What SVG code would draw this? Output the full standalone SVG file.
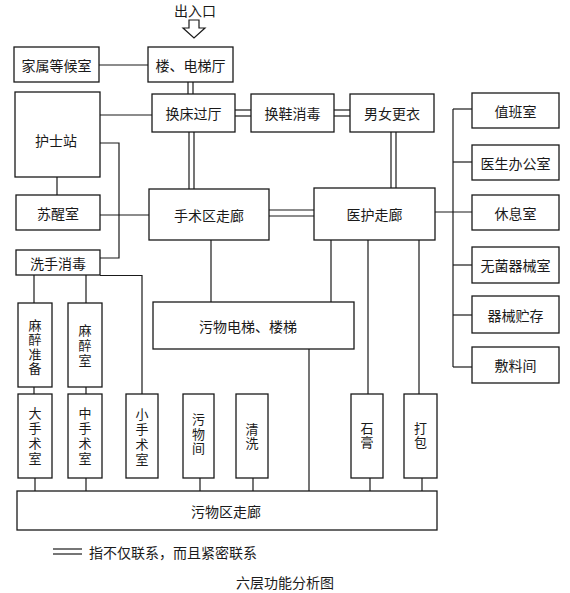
<svg xmlns="http://www.w3.org/2000/svg" width="570" height="593" viewBox="0 0 570 593">
<style>
rect{fill:#fff;stroke:#1a1a1a;stroke-width:1.3}
.c line,.c path{stroke:#1a1a1a;stroke-width:1.2;fill:none}
text{font-family:"Noto Sans CJK SC","Noto Sans",sans-serif;font-size:14px;fill:#1a1a1a;text-anchor:middle;dominant-baseline:central}
.v text{font-size:13px;writing-mode:vertical-rl;text-orientation:upright;letter-spacing:1.5px}
.v text.w{letter-spacing:2px}
</style>
<rect x="0" y="0" width="570" height="593" style="fill:#fff;stroke:none"/>
<g class="c" id="connectors">
<line x1="99" y1="65" x2="148" y2="65"/>
<line x1="188" y1="82" x2="188" y2="94"/><line x1="193" y1="82" x2="193" y2="94"/>
<line x1="100" y1="115" x2="152" y2="115"/>
<line x1="235" y1="110" x2="251" y2="110"/><line x1="235" y1="116" x2="251" y2="116"/>
<line x1="334" y1="110" x2="350" y2="110"/><line x1="334" y1="116" x2="350" y2="116"/>
<line x1="189" y1="132" x2="189" y2="189"/><line x1="194" y1="132" x2="194" y2="189"/>
<line x1="57" y1="177" x2="57" y2="195"/>
<line x1="100" y1="215" x2="149" y2="215"/>
<path d="M100,143 H119 V258 H100"/>
<line x1="269" y1="210" x2="314" y2="210"/><line x1="269" y1="216" x2="314" y2="216"/>
<line x1="391" y1="132" x2="391" y2="188"/><line x1="396" y1="132" x2="396" y2="188"/>
<line x1="435" y1="212" x2="472" y2="212"/>
<line x1="453" y1="109" x2="453" y2="367"/>
<line x1="453" y1="109" x2="472" y2="109"/>
<line x1="453" y1="162" x2="472" y2="162"/>
<line x1="453" y1="265" x2="472" y2="265"/>
<line x1="453" y1="315" x2="472" y2="315"/>
<line x1="453" y1="367" x2="472" y2="367"/>
<path d="M100,275.5 H142 V394"/>
<line x1="34" y1="275" x2="34" y2="303"/>
<line x1="86" y1="275" x2="86" y2="303"/>
<line x1="34" y1="387" x2="34" y2="394"/>
<line x1="86" y1="387" x2="86" y2="394"/>
<line x1="211" y1="240" x2="211" y2="302"/>
<line x1="331" y1="240" x2="331" y2="302"/>
<line x1="368" y1="240" x2="368" y2="394"/>
<line x1="419" y1="240" x2="419" y2="394"/>
<line x1="309" y1="349" x2="309" y2="491"/>
<line x1="35" y1="478" x2="35" y2="491"/>
<line x1="86" y1="478" x2="86" y2="491"/>
<line x1="200" y1="478" x2="200" y2="491"/>
<line x1="253" y1="478" x2="253" y2="491"/>
<line x1="370" y1="478" x2="370" y2="491"/>
<line x1="422" y1="478" x2="422" y2="491"/>
</g>
<g id="entrance">
<text x="195" y="10">出入口</text>
<polygon points="189,20 199,20 199,28 205,28 194,38 183,28 189,28" fill="#fff" stroke="#1a1a1a" stroke-width="1.2"/>
</g>
<g id="n-jiashu"><rect x="14" y="47" width="85" height="35"/><text x="56.5" y="65">家属等候室</text></g>
<g id="n-louti"><rect x="148" y="47" width="85" height="35"/><text x="190.5" y="65">楼、电梯厅</text></g>
<g id="n-huchuang"><rect x="152" y="94" width="83" height="38"/><text x="193.5" y="113">换床过厅</text></g>
<g id="n-hushi"><rect x="15" y="92" width="85" height="85"/><text x="56" y="140">护士站</text></g>
<g id="n-huanxie"><rect x="251" y="94" width="83" height="38"/><text x="292.5" y="113">换鞋消毒</text></g>
<g id="n-gengyi"><rect x="350" y="94" width="84" height="38"/><text x="392" y="113">男女更衣</text></g>
<g id="n-shoushuqu"><rect x="149" y="189" width="120" height="51"/><text x="209" y="214.5">手术区走廊</text></g>
<g id="n-suxing"><rect x="16" y="195" width="84" height="35"/><text x="58" y="212.5">苏醒室</text></g>
<g id="n-yihu"><rect x="314" y="188" width="121" height="52"/><text x="374.5" y="214">医护走廊</text></g>
<g id="n-zhiban"><rect x="472" y="93" width="87" height="35"/><text x="515.5" y="110.5">值班室</text></g>
<g id="n-yisheng"><rect x="472" y="145" width="87" height="35"/><text x="515.5" y="162.5">医生办公室</text></g>
<g id="n-xiuxi"><rect x="472" y="195" width="87" height="35"/><text x="515.5" y="212.5">休息室</text></g>
<g id="n-wujun"><rect x="472" y="247" width="87" height="36"/><text x="515.5" y="265">无菌器械室</text></g>
<g id="n-qixie"><rect x="472" y="296" width="87" height="37"/><text x="515.5" y="314.5">器械贮存</text></g>
<g id="n-fuliao"><rect x="472" y="347" width="87" height="36"/><text x="515.5" y="365">敷料间</text></g>
<g id="n-xishou"><rect x="16" y="250" width="84" height="25"/><text x="58" y="262.5">洗手消毒</text></g>
<g id="n-mazuizhunbei" class="v"><rect x="18" y="303" width="34" height="84"/><text x="35" y="347.5">麻醉准备</text></g>
<g id="n-mazuishi" class="v"><rect x="68" y="303" width="34" height="84"/><text class="w" x="85" y="346">麻醉室</text></g>
<g id="n-da" class="v"><rect x="18" y="394" width="34" height="84"/><text class="w" x="35" y="436.5">大手术室</text></g>
<g id="n-zhong" class="v"><rect x="68" y="394" width="34" height="84"/><text class="w" x="85" y="436.5">中手术室</text></g>
<g id="n-xiao" class="v"><rect x="126" y="394" width="32" height="84"/><text class="w" x="142" y="437.5">小手术室</text></g>
<g id="n-wuwujian" class="v"><rect x="183" y="394" width="31" height="84"/><text x="198.5" y="434.5">污物间</text></g>
<g id="n-qingxi" class="v"><rect x="236" y="394" width="32" height="84"/><text x="252" y="437">清洗</text></g>
<g id="n-wuwudianti"><rect x="153" y="302" width="201" height="47"/><text x="248" y="326">污物电梯、楼梯</text></g>
<g id="n-shigao" class="v"><rect x="351" y="394" width="32" height="84"/><text x="367" y="436">石膏</text></g>
<g id="n-dabao" class="v"><rect x="404" y="394" width="33" height="84"/><text x="420.5" y="436">打包</text></g>
<g id="n-wuwuqu"><rect x="17" y="491" width="420" height="39"/><text x="226" y="511">污物区走廊</text></g>
<g id="legend">
<line x1="53" y1="549" x2="82" y2="549" stroke="#1a1a1a" stroke-width="1.2"/>
<line x1="53" y1="554" x2="82" y2="554" stroke="#1a1a1a" stroke-width="1.2"/>
<text x="89" y="552" style="text-anchor:start">指不仅联系，而且紧密联系</text>
</g>
<g id="caption"><text x="285" y="582">六层功能分析图</text></g>
</svg>
